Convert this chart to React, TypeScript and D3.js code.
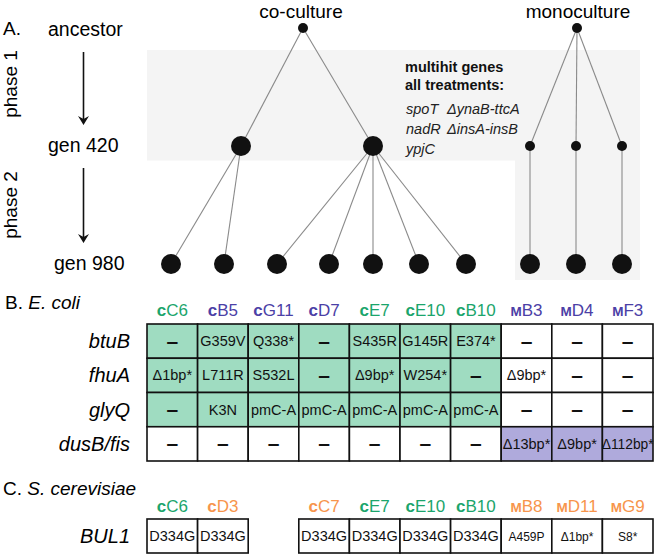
import React from "react";
import * as d3 from "d3";

// ---------- Data ----------
const generations = ["ancestor", "gen 420", "gen 980"];
const phases = ["phase 1", "phase 2"];

// tree nodes: id, parent, slot (horizontal position), gen index, size ("s" small/"l" large)
const treeNodes = [
  { id: "co", parent: null, slot: 303, gen: 0, size: "s" },
  { id: "co1", parent: "co", slot: 241, gen: 1, size: "l" },
  { id: "co2", parent: "co", slot: 373, gen: 1, size: "l" },
  { id: "cC6", parent: "co1", slot: 171, gen: 2, size: "l" },
  { id: "cB5", parent: "co1", slot: 224, gen: 2, size: "l" },
  { id: "cG11", parent: "co2", slot: 277, gen: 2, size: "l" },
  { id: "cD7", parent: "co2", slot: 329, gen: 2, size: "l" },
  { id: "cE7", parent: "co2", slot: 373, gen: 2, size: "l" },
  { id: "cE10", parent: "co2", slot: 419, gen: 2, size: "l" },
  { id: "cB10", parent: "co2", slot: 466, gen: 2, size: "l" },
  { id: "mo", parent: null, slot: 577, gen: 0, size: "s" },
  { id: "mo1", parent: "mo", slot: 530, gen: 1, size: "s" },
  { id: "mo2", parent: "mo", slot: 576, gen: 1, size: "s" },
  { id: "mo3", parent: "mo", slot: 622, gen: 1, size: "s" },
  { id: "mB3", parent: "mo1", slot: 530, gen: 2, size: "l" },
  { id: "mD4", parent: "mo2", slot: 576, gen: 2, size: "l" },
  { id: "mF3", parent: "mo3", slot: 622, gen: 2, size: "l" },
];

const multihitTitle = ["multihit genes", "all treatments:"];
const multihitGenes = [
  ["spoT", "\u0394ynaB-ttcA"],
  ["nadR", "\u0394insA-insB"],
  ["ypjC", ""],
];

const ecoliStrains = ["cC6", "cB5", "cG11", "cD7", "cE7", "cE10", "cB10", "mB3", "mD4", "mF3"];
const ecoliStrainGroup = ["g", "b", "b", "b", "g", "g", "g", "b", "b", "b"];
const ecoliGenes = ["btuB", "fhuA", "glyQ", "dusB/fis"];
const D = "\u2013";
const ecoliMutations = [
  [D, "G359V", "Q338*", D, "S435R", "G145R", "E374*", D, D, D],
  ["\u03941bp*", "L711R", "S532L", D, "\u03949bp*", "W254*", D, "\u03949bp*", D, D],
  [D, "K3N", "pmC-A", "pmC-A", "pmC-A", "pmC-A", "pmC-A", D, D, D],
  [D, D, D, D, D, D, D, "\u039413bp*", "\u03949bp*", "\u0394112bp*"],
];
// fill: "g" green, "p" purple, "" none
const ecoliFill = [
  ["g", "g", "g", "g", "g", "g", "g", "", "", ""],
  ["g", "g", "g", "g", "g", "g", "g", "", "", ""],
  ["g", "g", "g", "g", "g", "g", "g", "", "", ""],
  ["", "", "", "", "", "", "", "p", "p", "p"],
];

const yeastStrains = ["cC6", "cD3", "", "cC7", "cE7", "cE10", "cB10", "mB8", "mD11", "mG9"];
const yeastStrainGroup = ["g", "o", "", "o", "g", "g", "g", "o", "o", "o"];
const yeastGene = "BUL1";
const yeastMutations = ["D334G", "D334G", "", "D334G", "D334G", "D334G", "D334G", "A459P", "\u03941bp*", "S8*"];

// ---------- Style ----------
const W = 655, H = 555;
const FONT = "'Liberation Sans', Arial, Helvetica, sans-serif";
const COL = {
  g: "#1ba56c",
  b: "#4b40a6",
  o: "#f7954c",
  fillG: "#9fdcc1",
  fillP: "#afaadc",
  bg: "#f4f4f4",
  line: "#8a8a8a",
};

function StrainLabel({ name, x, y, group }: { name: string; x: number; y: number; group: string }) {
  const prefix = name[0];
  const rest = name.slice(1);
  const color = (COL as any)[group];
  return (
    <text x={x} y={y} textAnchor="middle" fill={color} fontFamily={FONT} fontSize={17}>
      {prefix === "m" ? (
        <tspan fontWeight="bold" fontSize={13.5}>M</tspan>
      ) : (
        <tspan fontWeight="bold">c</tspan>
      )}
      <tspan>{rest}</tspan>
    </text>
  );
}

export default function App() {
  const yGen = d3.scaleOrdinal<string, number>().domain(generations).range([28, 146, 264]);
  const xTree = d3.scaleLinear().domain([0, W]).range([0, W]);
  const byId = new Map(treeNodes.map((n) => [n.id, n]));

  const xCol = d3.scaleBand<number>().domain(d3.range(10)).range([147, 653]).padding(0);
  const yRow = d3.scaleBand<number>().domain(d3.range(4)).range([324, 461]).padding(0);
  const yYeast = { top: 519, bottom: 553 };

  const cellFill = (f: string) => (f === "g" ? COL.fillG : f === "p" ? COL.fillP : "#fff");

  return (
    <svg width={W} height={H} style={{ position: "absolute", left: 0, top: 0 }} fontFamily={FONT}>
      <rect width={W} height={H} fill="#fff" />
      {/* background shading */}
      <path d={`M147,50 H640 V280 H515 V160.5 H147 Z`} fill={COL.bg} />
      {/* A label */}
      <text x={3} y={35} fontSize={19}>A.</text>
      {/* generation labels */}
      <text x={48} y={36} fontSize={19.5}>{generations[0]}</text>
      <text x={48} y={152} fontSize={19.5}>{generations[1]}</text>
      <text x={54} y={270} fontSize={19.5}>{generations[2]}</text>
      {/* phase labels */}
      <text transform="translate(17,84) rotate(-90)" textAnchor="middle" fontSize={19}>{phases[0]}</text>
      <text transform="translate(17,205) rotate(-90)" textAnchor="middle" fontSize={19}>{phases[1]}</text>
      {/* arrows */}
      {[[52, 125], [168, 243]].map(([a, b], i) => (
        <g key={i}>
          <line x1={83.5} x2={83.5} y1={a} y2={b - 6} stroke="#111" strokeWidth={1.6} />
          <path d={`M78,${b - 9} L83.5,${b} L89,${b - 9} L83.5,${b - 6} Z`} fill="#111" />
        </g>
      ))}
      {/* treatment titles */}
      <text x={301} y={18} textAnchor="middle" fontSize={19}>co-culture</text>
      <text x={578} y={18} textAnchor="middle" fontSize={19}>monoculture</text>
      {/* tree edges */}
      {treeNodes
        .filter((n) => n.parent)
        .map((n) => {
          const p = byId.get(n.parent as string)!;
          return (
            <line
              key={"e" + n.id}
              x1={xTree(p.slot)}
              y1={yGen(generations[p.gen])}
              x2={xTree(n.slot)}
              y2={yGen(generations[n.gen])}
              stroke={COL.line}
              strokeWidth={1.1}
            />
          );
        })}
      {/* tree nodes */}
      {treeNodes.map((n) => (
        <circle
          key={n.id}
          cx={xTree(n.slot)}
          cy={yGen(generations[n.gen])}
          r={n.size === "l" ? 10 : 5}
          fill="#111"
        />
      ))}
      {/* multihit text */}
      {multihitTitle.map((t, i) => (
        <text key={t} x={405} y={72 + i * 18} fontSize={14.5} fontWeight="bold" fill="#111">{t}</text>
      ))}
      {multihitGenes.map((row, i) => (
        <g key={i} fontStyle="italic" fontSize={14.5} fill="#222">
          <text x={406} y={114 + i * 20}>{row[0]}</text>
          {row[1] && <text x={447} y={114 + i * 20}>{row[1]}</text>}
        </g>
      ))}

      {/* Panel B */}
      <text x={5} y={309} fontSize={19}>
        B. <tspan fontStyle="italic">E. coli</tspan>
      </text>
      {ecoliStrains.map((s, j) => (
        <StrainLabel key={s} name={s} x={xCol(j)! + xCol.bandwidth() / 2} y={316} group={ecoliStrainGroup[j]} />
      ))}
      {ecoliGenes.map((g, i) => (
        <text key={g} x={130} y={yRow(i)! + yRow.bandwidth() / 2 + 7} textAnchor="end" fontStyle="italic" fontSize={20}>
          {g}
        </text>
      ))}
      {ecoliMutations.map((row, i) =>
        row.map((m, j) => (
          <g key={i + "-" + j}>
            <rect
              x={xCol(j)}
              y={yRow(i)}
              width={xCol.bandwidth()}
              height={yRow.bandwidth()}
              fill={cellFill(ecoliFill[i][j])}
              stroke="#111"
              strokeWidth={1.6}
            />
            {m === D ? (
              <text x={xCol(j)! + xCol.bandwidth() / 2} y={yRow(i)! + yRow.bandwidth() / 2 + 6.5} textAnchor="middle" fontSize={21} fontWeight="900" fill="#111">
                {m}
              </text>
            ) : (
              <text x={xCol(j)! + xCol.bandwidth() / 2} y={yRow(i)! + yRow.bandwidth() / 2 + 5} textAnchor="middle" fontSize={m.length > 6 ? 13.8 : 14.5} fill="#111">
                {m}
              </text>
            )}
          </g>
        ))
      )}

      {/* Panel C */}
      <text x={3} y={495} fontSize={19}>
        C. <tspan fontStyle="italic">S. cerevisiae</tspan>
      </text>
      {yeastStrains.map((s, j) =>
        s ? <StrainLabel key={"y" + j} name={s} x={xCol(j)! + xCol.bandwidth() / 2} y={512} group={yeastStrainGroup[j]} /> : null
      )}
      <text x={130} y={543} textAnchor="end" fontStyle="italic" fontSize={20}>{yeastGene}</text>
      {yeastMutations.map((m, j) =>
        m ? (
          <g key={"ym" + j}>
            <rect x={xCol(j)} y={yYeast.top} width={xCol.bandwidth()} height={yYeast.bottom - yYeast.top} fill="#fff" stroke="#111" strokeWidth={1.6} />
            <text
              x={xCol(j)! + xCol.bandwidth() / 2}
              y={(yYeast.top + yYeast.bottom) / 2 + 5}
              textAnchor="middle"
              fontSize={j >= 7 ? 12 : 14.5}
              fill="#111"
            >
              {m}
            </text>
          </g>
        ) : null
      )}
    </svg>
  );
}
